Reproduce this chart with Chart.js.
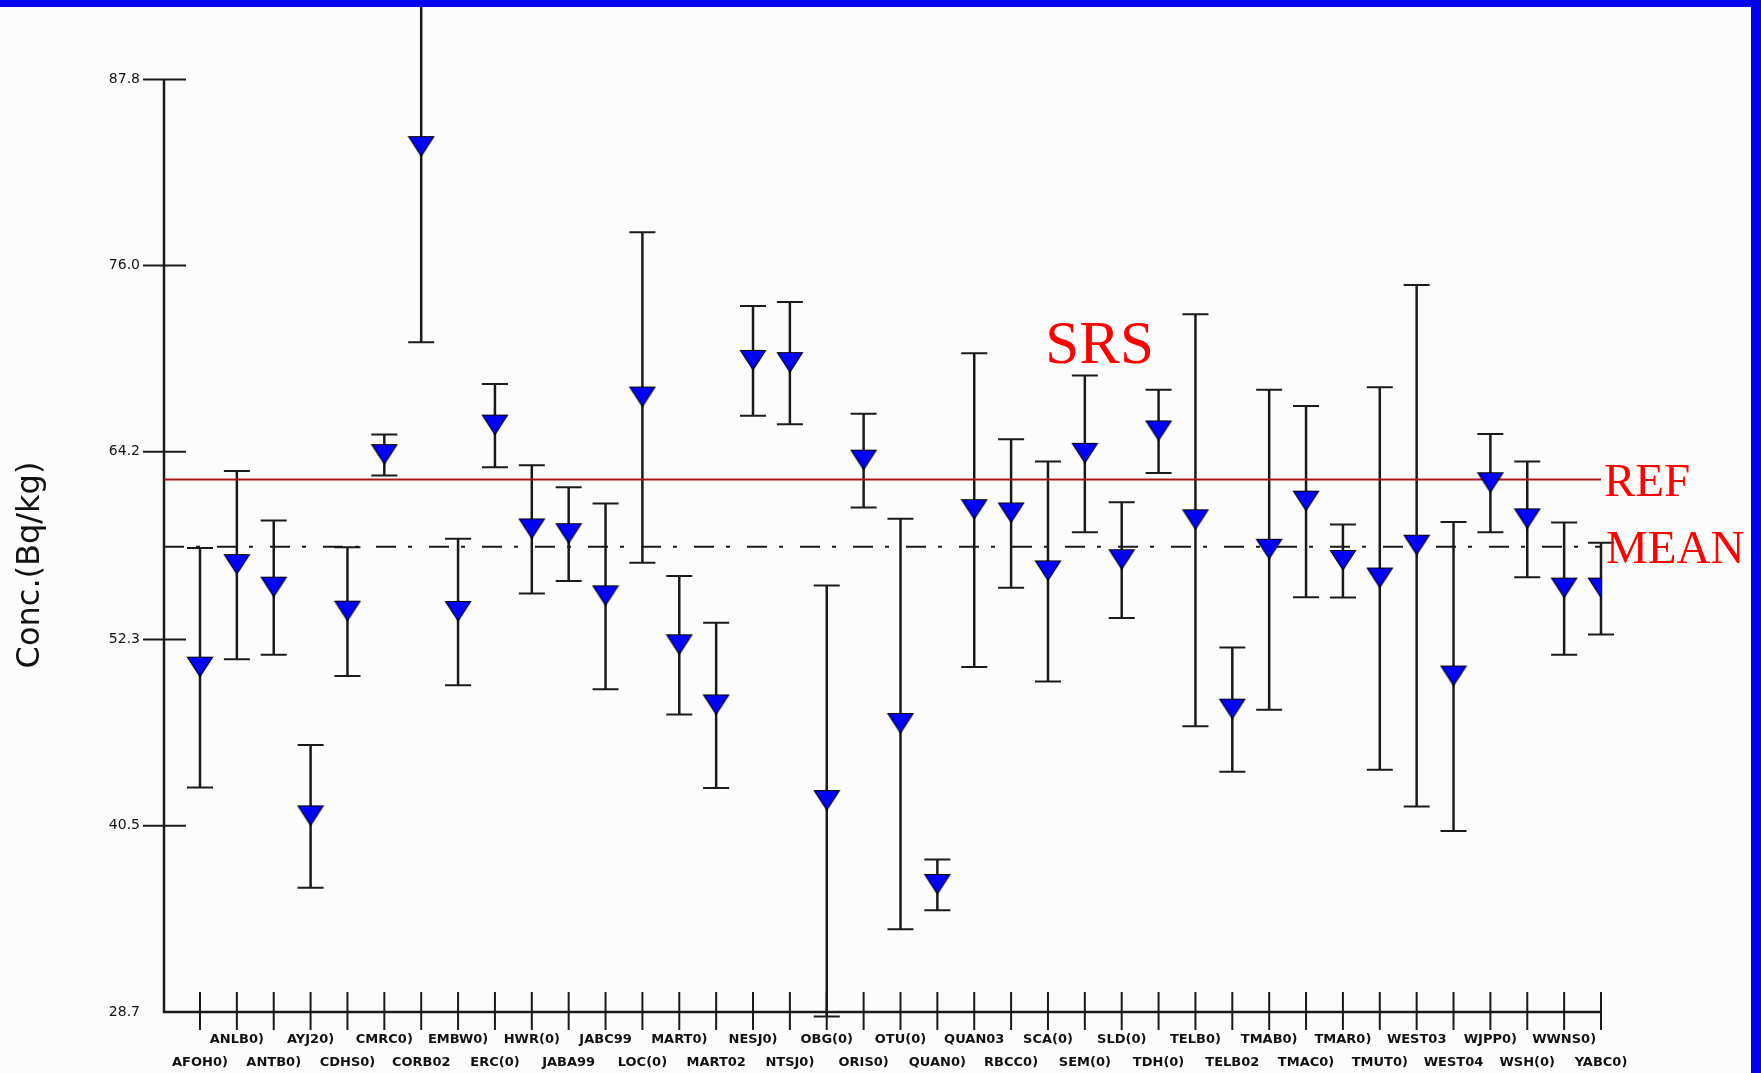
<!DOCTYPE html>
<html>
<head>
<meta charset="utf-8">
<script src="https://cdn.jsdelivr.net/npm/chart.js@4/dist/chart.umd.min.js"></script>
<style>
  html, body { margin: 0; padding: 0; background: #fcfcfc; }
  canvas { display: block; }
</style>
</head>
<body>
<canvas id="labChart" width="1761" height="1073"></canvas>
<script>
// lab codes, one per station on the x axis
const labs = [
    'AFOH0)', 'ANLB0)', 'ANTB0)', 'AYJ20)', 'CDHS0)', 'CMRC0)', 'CORB02', 'EMBW0)',
    'ERC(0)', 'HWR(0)', 'JABA99', 'JABC99', 'LOC(0)', 'MART0)', 'MART02', 'NESJ0)',
    'NTSJ0)', 'OBG(0)', 'ORIS0)', 'OTU(0)', 'QUAN0)', 'QUAN03', 'RBCC0)', 'SCA(0)',
    'SEM(0)', 'SLD(0)', 'TDH(0)', 'TELB0)', 'TELB02', 'TMAB0)', 'TMAC0)', 'TMAR0)',
    'TMUT0)', 'WEST03', 'WEST04', 'WJPP0)', 'WSH(0)', 'WWNS0)', 'YABC0)'
];

// reported concentration (Bq/kg) and its uncertainty
const conc = [
    50.52, 57.02, 55.59, 41.10, 54.07, 63.99, 83.51, 54.05,
    65.86, 59.28, 58.98, 55.04, 67.64, 51.94, 48.13, 69.96,
    69.82, 42.07, 63.64, 46.95, 36.75, 60.50, 60.29, 56.62,
    64.07, 57.33, 65.49, 59.86, 47.86, 57.99, 61.04, 57.28,
    56.17, 58.25, 49.96, 62.21, 59.92, 55.53, 55.53
];
const uncert = [
    7.59, 5.96, 4.25, 4.52, 4.08, 1.30, 12.37, 4.64,
    2.64, 4.06, 2.97, 5.88, 10.47, 4.39, 5.24, 3.48,
    3.88, 13.65, 2.97, 13.01, 1.61, 9.94, 4.70, 6.97,
    4.97, 3.67, 2.64, 13.05, 3.94, 10.14, 6.06, 2.31,
    12.12, 16.52, 9.79, 3.11, 3.67, 4.19, 2.91
];

const refValue = 62.44;
const meanValue = 58.19;
const yTicks = [28.7, 40.5, 52.3, 64.2, 76.0, 87.8];

const X_MIN = -0.976;
const X_MAX = labs.length - 1;

// downward blue triangle used as the marker
function makeMarker() {
    const c = document.createElement('canvas');
    c.width = 28;
    c.height = 24;
    const g = c.getContext('2d');
    g.beginPath();
    g.moveTo(1.5, 1.5);
    g.lineTo(26.5, 1.5);
    g.lineTo(14, 21);
    g.closePath();
    g.fillStyle = '#0000ff';
    g.fill();
    g.lineWidth = 1.2;
    g.strokeStyle = '#000';
    g.stroke();
    return c;
}

const frame = {
    id: 'frame',
    beforeDraw(chart) {
        const ctx = chart.ctx;
        ctx.save();
        ctx.fillStyle = '#fcfcfc';
        ctx.fillRect(0, 0, chart.width, chart.height);
        ctx.restore();
    },
    beforeDatasetsDraw(chart) {
        const ctx = chart.ctx;
        const xs = chart.scales.x;
        const ys = chart.scales.y;
        const left = xs.getPixelForValue(X_MIN);
        const bottom = ys.getPixelForValue(yTicks[0]);
        ctx.save();
        ctx.strokeStyle = '#1a1a1a';
        ctx.lineCap = 'butt';

        // error bars
        ctx.lineWidth = 2.5;
        conc.forEach((v, i) => {
            const x = xs.getPixelForValue(i);
            const top = ys.getPixelForValue(v + uncert[i]);
            const bot = ys.getPixelForValue(v - uncert[i]);
            ctx.beginPath();
            ctx.moveTo(x, top);
            ctx.lineTo(x, bot);
            ctx.stroke();
            ctx.lineWidth = 2;
            ctx.beginPath();
            ctx.moveTo(x - 13, top);
            ctx.lineTo(x + 13, top);
            ctx.moveTo(x - 13, bot);
            ctx.lineTo(x + 13, bot);
            ctx.stroke();
            ctx.lineWidth = 2.5;
        });

        // axes
        ctx.lineWidth = 2.5;
        ctx.beginPath();
        ctx.moveTo(left, ys.getPixelForValue(yTicks[yTicks.length - 1]));
        ctx.lineTo(left, bottom);
        ctx.lineTo(xs.getPixelForValue(X_MAX), bottom);
        ctx.stroke();

        ctx.lineWidth = 2;
        ctx.beginPath();
        yTicks.slice(1).forEach(t => {
            const y = ys.getPixelForValue(t);
            ctx.moveTo(left - 21, y);
            ctx.lineTo(left + 22, y);
        });
        labs.forEach((l, i) => {
            const x = xs.getPixelForValue(i);
            ctx.moveTo(x, bottom - 20);
            ctx.lineTo(x, bottom + 18);
        });
        ctx.stroke();
        ctx.restore();
    },
    afterDraw(chart) {
        const ctx = chart.ctx;
        const xs = chart.scales.x;
        const ys = chart.scales.y;
        const end = xs.getPixelForValue(X_MAX);
        ctx.save();

        // line captions
        ctx.fillStyle = '#ff0000';
        ctx.textAlign = 'left';
        ctx.textBaseline = 'alphabetic';
        ctx.font = '47px "Liberation Serif", "Times New Roman", serif';
        ctx.fillText('REF', end + 3, ys.getPixelForValue(refValue) + 16);
        ctx.fillText('MEAN', end + 5, ys.getPixelForValue(meanValue) + 16);
        ctx.font = '61px "Liberation Serif", "Times New Roman", serif';
        ctx.textAlign = 'center';
        ctx.fillText('SRS', xs.getPixelForValue(24.4), ys.getPixelForValue(69.8));

        // y axis title
        ctx.fillStyle = '#111';
        ctx.font = '32px "DejaVu Sans", sans-serif';
        ctx.translate(31, 565);
        ctx.rotate(-Math.PI / 2);
        ctx.textBaseline = 'middle';
        ctx.fillText('Conc.(Bq/kg)', 0, 0);
        ctx.restore();

        // blue border
        ctx.save();
        ctx.fillStyle = '#0000ee';
        ctx.fillRect(0, 0, chart.width, 7);
        ctx.fillRect(chart.width - 10, 0, 10, chart.height);
        ctx.restore();
    }
};

new Chart(document.getElementById('labChart'), {
    type: 'scatter',
    data: {
        datasets: [
            {
                label: 'Conc.',
                data: conc.map((v, i) => ({ x: i, y: v })),
                pointStyle: makeMarker(),
                pointRadius: 12,
                pointHoverRadius: 12
            },
            {
                type: 'line',
                label: 'REF',
                data: [{ x: X_MIN, y: refValue }, { x: X_MAX, y: refValue }],
                borderColor: '#a81818',
                borderWidth: 2,
                pointRadius: 0
            },
            {
                type: 'line',
                label: 'MEAN',
                data: [{ x: X_MIN, y: meanValue }, { x: X_MAX, y: meanValue }],
                borderColor: '#1a1a1a',
                borderWidth: 2,
                borderDash: [20, 12, 4, 17],
                pointRadius: 0
            }
        ]
    },
    options: {
        responsive: false,
        animation: false,
        devicePixelRatio: 1,
        layout: { autoPadding: false, padding: { left: 0, right: 160, top: 0, bottom: 0 } },
        plugins: {
            legend: { display: false },
            tooltip: { enabled: false }
        },
        scales: {
            x: {
                type: 'linear',
                min: X_MIN,
                max: X_MAX,
                grid: { display: false, drawTicks: false },
                border: { display: false },
                afterBuildTicks: scale => {
                    scale.ticks = labs.map((l, i) => ({ value: i }));
                },
                afterFit: scale => {
                    scale.height = 61;
                    scale.paddingLeft = 0;
                    scale.paddingRight = 0;
                },
                ticks: {
                    autoSkip: false,
                    maxRotation: 0,
                    minRotation: 0,
                    padding: 16.5,
                    color: '#111',
                    font: { family: '"DejaVu Sans", sans-serif', size: 13, weight: 'bold', lineHeight: '23px' },
                    callback: (value, index) => index % 2 === 0 ? ['', labs[index]] : labs[index]
                }
            },
            y: {
                min: 28.7,
                max: 92.83,
                grid: { display: false, drawTicks: false },
                border: { display: false },
                afterBuildTicks: scale => {
                    scale.ticks = yTicks.map(v => ({ value: v }));
                },
                afterFit: scale => {
                    scale.width = 164;
                    scale.paddingTop = 0;
                    scale.paddingBottom = 0;
                },
                ticks: {
                    padding: 24,
                    color: '#111',
                    font: { family: '"DejaVu Sans", sans-serif', size: 14 },
                    callback: value => value.toFixed(1)
                }
            }
        }
    },
    plugins: [frame]
});
</script>
</body>
</html>
